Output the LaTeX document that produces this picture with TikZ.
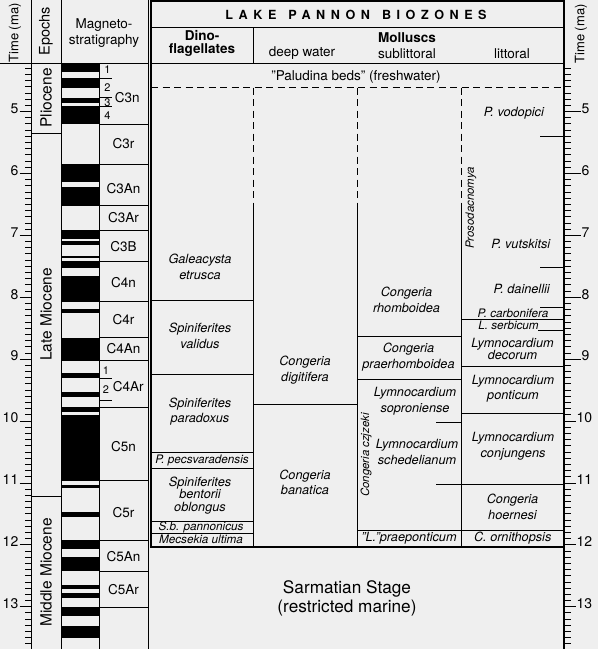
\documentclass[tikz,border=0pt]{standalone}
\usepackage{fontspec}
\setmainfont{TeX Gyre Heros}
\definecolor{bg}{RGB}{239,239,239}
\begin{document}
\begin{tikzpicture}[x=1pt,y=-1pt,
  ln/.style={line width=0.8pt},
  bx/.style={line width=2.4pt},
  tk/.style={line width=0.8pt},
  dsh/.style={line width=0.8pt, dash pattern=on 7pt off 4.5pt},
  zone/.style={font=\fontsize{12.7}{15.7}\selectfont\itshape, align=center, inner sep=0pt},
  ztight/.style={font=\fontsize{12.7}{12.6}\selectfont\itshape, align=center, inner sep=0pt},
  zsm/.style={font=\fontsize{11.7}{13}\selectfont\itshape, inner sep=0pt},
  zrot/.style={font=\fontsize{11.4}{13}\selectfont\itshape, inner sep=0pt, rotate=90},
  hd/.style={font=\fontsize{13.5}{15.5}\selectfont, align=center, inner sep=0pt},
  hdb/.style={font=\fontsize{13.5}{12.7}\selectfont\bfseries, align=center, inner sep=0pt},
  hdrot/.style={font=\fontsize{13}{13}\selectfont, rotate=90, inner sep=0pt},
  chron/.style={font=\fontsize{13.5}{14}\selectfont, inner sep=0pt},
  subn/.style={font=\fontsize{11}{12}\selectfont, inner sep=0pt},
  axl/.style={font=\fontsize{14}{14}\selectfont, inner sep=0pt},
  epoch/.style={font=\fontsize{15.5}{16}\selectfont, rotate=90, inner sep=0pt},
  big/.style={font=\fontsize{17.2}{19}\selectfont, align=center, inner sep=0pt}
]
\fill[bg] (0,0) rectangle (598,649);
\useasboundingbox (0,0) rectangle (598,649);

% ---------- polarity bars ----------
\foreach \a/\b in {63/71.7, 77.7/87.7, 97.7/103.3, 105.7/124.3, 164.3/181.7, 187.3/205.7,
  230/239.3, 241/245, 255.5/258.2, 260.5/268, 275.7/301.7, 309/312.7, 337.7/360.5,
  372.7/378.3, 391.7/397.3, 406.7/411.7, 415/480.7, 485/488.3, 511.7/517.3, 540/549.3,
  557.3/570.7, 585/589.3, 592.7/598.3, 607.3/616, 626/638.3}
  \fill[black] (61,\a) rectangle (99,\b);

% ---------- left column lines ----------
\draw[ln] (31,0) -- (31,649);
\draw[ln] (61,0) -- (61,649);
\draw[ln] (99,63) -- (99,649);
\draw[ln] (148,0) -- (148,649);
\draw[ln] (0,63) -- (148,63);
\draw[ln] (31,133) -- (61,133);
\draw[ln] (31,496) -- (61,496);

% chron boundaries
\foreach \y in {124.3,164.3,205.7,230.5,261.7,301.7,337.7,360.7,407.3,480.7,540.3,571.3,607.5}
  \draw[ln] (99,\y) -- (148,\y);
\foreach \y in {78.3,97.7,106.5,378.3,400.7}
  \draw[ln] (99,\y) -- (112,\y);

% ---------- headers left ----------
\node[hdrot] (tl) at (15,33) {Time (ma)};
\node[hdrot, font=\fontsize{14.5}{14.5}\selectfont] (ep) at (46,31) {Epochs};
\node[hd] (mag) at (104,33) {Magneto-\\stratigraphy};
\node[hdrot] (tr) at (581,34) {Time (ma)};

% epochs
\node[epoch] (pl) at (46,98) {Pliocene};
\node[epoch] (lm) at (46,314.5) {Late Miocene};
\node[epoch] (mm) at (46,572.5) {Middle Miocene};

% chrons
\node[chron] (c3n) at (127.2,97.7) {C3n};
\node[subn] (s1) at (107.5,70) {1};
\node[subn] (s2) at (107.5,88) {2};
\node[subn] (s3) at (107.5,102.5) {3};
\node[subn] (s4) at (107.5,116) {4};
\node[chron] (c3r) at (123.5,144) {C3r};
\node[chron] (c3an) at (123.5,189) {C3An};
\node[chron] (c3ar) at (123.5,217.5) {C3Ar};
\node[chron] (c3b) at (123.5,246.5) {C3B};
\node[chron] (c4n) at (123.5,283) {C4n};
\node[chron] (c4r) at (123.5,320) {C4r};
\node[chron] (c4an) at (123.5,349) {C4An};
\node[chron] (c4ar) at (128.3,387) {C4Ar};
\node[subn] (s5) at (106,370.7) {1};
\node[subn] (s6) at (106,390) {2};
\node[chron] (c5n) at (123.5,446.5) {C5n};
\node[chron] (c5r) at (123.5,512.5) {C5r};
\node[chron] (c5an) at (123.5,556.5) {C5An};
\node[chron] (c5ar) at (123.5,590) {C5Ar};

% ---------- time axes ----------
\foreach \i in {43,...,136}{
  \pgfmathsetmacro\yy{111.5+(\i-50)*6.19}
  \pgfmathtruncatemacro\r{mod(\i,10)}
  \ifnum\r=0\relax
    \draw[tk] (19.5,\yy) -- (31,\yy);
  \else
    \draw[tk] (25,\yy) -- (31,\yy);
    \draw[tk] (564,\yy) -- (571,\yy);
  \fi
}
\foreach \t in {5,...,13}{
  \pgfmathsetmacro\yy{111.5+(\t-5)*61.9}
  \node[axl, anchor=east] (la\t) at (18.5,\yy-3) {\t};
  \ifnum\t<10\relax
    \node[axl, anchor=west] (ra\t) at (581.5,\yy-3) {\t};
    \draw[tk] (564,\yy) -- (581,\yy);
  \else
    \node[axl, anchor=west] (ra\t) at (576.5,\yy-3) {\t};
    \draw[tk] (564,\yy) -- (576,\yy);
  \fi
}
\draw[line width=1.4pt] (564,547) -- (564,649);

% ---------- biozone box ----------
\draw[ln] (151,27) -- (564,27);
\draw[ln] (151,63) -- (564,63);
\draw[ln] (253,27) -- (253,63);
\node[font=\fontsize{12.6}{13}\selectfont\bfseries\addfontfeature{LetterSpace=44}, inner sep=0pt] (title) at (356,15) {LAKE\hspace{12pt}PANNON\hspace{12pt}BIOZONES};
\node[hdb] (dino) at (202,43.7) {Dino-\\flagellates};
\node[hdb] (moll) at (407,38) {Molluscs};
\node[hd] (dw) at (302,53.5) {deep water};
\node[hd] (sl) at (407,53.5) {sublittoral};
\node[hd] (lt) at (512,53.5) {littoral};
\node[hd] (pal) at (356,76.5) {"Paludina beds" (freshwater)};

\draw[dsh] (151,87.5) -- (564,87.5);
\foreach \x in {253,357,461}{
  \draw[dsh] (\x,87.5) -- (\x,210);
  \draw[ln] (\x,210) -- (\x,547);
}

% dinoflagellate zones
\foreach \y in {300.7,374,452.3,468.3,521.7,533.3}
  \draw[ln] (151,\y) -- (253,\y);
\node[zone] (ge) at (200,267) {Galeacysta\\etrusca};
\node[zone] (sv) at (200,336) {Spiniferites\\validus};
\node[zone] (sp) at (200,411.5) {Spiniferites\\paradoxus};
\node[zsm] (pp) at (202,460.5) {P. pecsvaradensis};
\node[ztight] (sbo) at (200,495.3) {Spiniferites\\bentorii\\oblongus};
\node[zsm] (sbp) at (201,527.3) {S.b. pannonicus};
\node[zsm] (mu) at (201,539.8) {Mecsekia ultima};

% deep water
\draw[ln] (253,404) -- (357,404);
\node[zone] (cd) at (305,370.3) {Congeria\\digitifera};
\node[zone] (cb) at (305,482.3) {Congeria\\banatica};

% sublittoral
\draw[ln] (357,336.7) -- (461,336.7);
\draw[ln] (357,379.3) -- (461,379.3);
\draw[ln] (357,530) -- (564,530);
\draw[ln] (436,422.7) -- (461,422.7);
\draw[ln] (436,484) -- (564,484);
\node[zone] (cr) at (406.5,299.5) {Congeria\\rhomboidea};
\node[zone] (cpr) at (408.5,357.2) {Congeria\\praerhomboidea};
\node[zone] (ls) at (415,401.5) {Lymnocardium\\soproniense};
\node[zone] (lsc) at (417,451.7) {Lymnocardium\\schedelianum};
\node[zrot] (cc) at (366,455) {Congeria czjzeki};
\node[zone] (lp) at (409,538.3) {"L."praeponticum};

% littoral
\foreach \y in {136.7,267.3,307.3}
  \draw[ln] (540,\y) -- (564,\y);
\draw[ln] (538,330) -- (564,330);
\foreach \y in {319,366,413.3}
  \draw[ln] (461,\y) -- (564,\y);
\node[zone] (pv) at (513.8,113.3) {P. vodopici};
\node[zrot] (pro) at (471,208) {Prosodacnomya};
\node[zone] (pvu) at (520.8,244) {P. vutskitsi};
\node[zone] (pd) at (521.7,289.3) {P. dainellii};
\node[zsm] (pc) at (513,313.3) {P. carbonifera};
\node[zsm] (lse) at (508.5,325.5) {L. serbicum};
\node[ztight] (ld) at (512.5,348.8) {Lymnocardium\\decorum};
\node[zone] (lpo) at (513,388.7) {Lymnocardium\\ponticum};
\node[zone] (lco) at (513,446.3) {Lymnocardium\\conjungens};
\node[zone] (ch) at (512.5,506.5) {Congeria\\hoernesi};
\node[zone] (co) at (512.7,538) {C. ornithopsis};

% box border
\draw[bx] (151,1.2) rectangle (564,547);

% Sarmatian
\node[big] (sar) at (347,598.5) {Sarmatian Stage\\(restricted marine)};
\end{tikzpicture}
\end{document}
